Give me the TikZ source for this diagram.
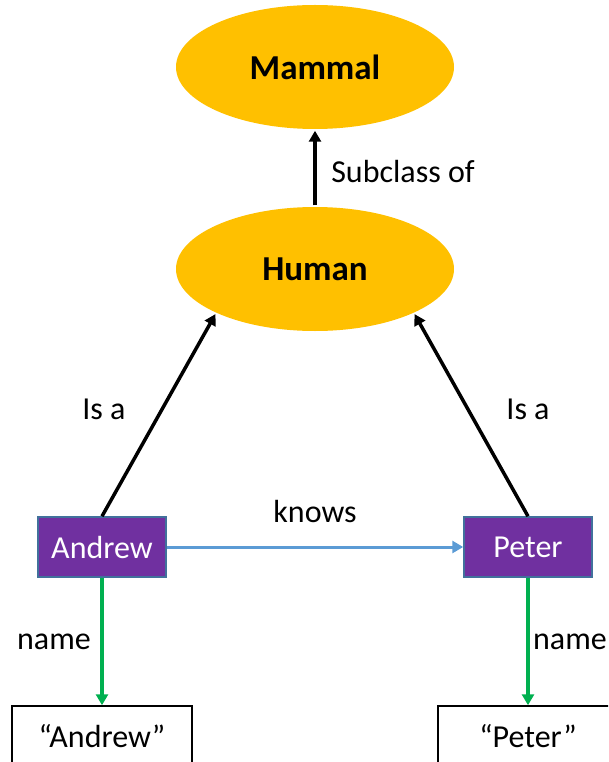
\documentclass[tikz,border=0pt]{standalone}
\usepackage{fontspec}
\setmainfont{Carlito}
\usetikzlibrary{arrows.meta, shapes.geometric}

\definecolor{classfill}{HTML}{FFC000}
\definecolor{personfill}{HTML}{7030A0}
\definecolor{personline}{HTML}{41719C}
\definecolor{knowsline}{HTML}{5B9BD5}
\definecolor{nameline}{HTML}{00B050}

\begin{document}
\begin{tikzpicture}[x=1pt, y=-1pt, -{Triangle[length=11pt, width=12pt]}, line width=3.5pt,
        class node/.style={ellipse, fill=classfill, minimum width=278pt, minimum height=124pt, inner sep=0pt,
            font=\fontsize{35}{42}\selectfont\bfseries},
        person node/.style={rectangle, fill=personfill, draw=personline, line width=1.5pt, text=white,
            minimum width=128pt, minimum height=60pt, inner sep=0pt, font=\fontsize{32}{38}\selectfont},
        literal node/.style={rectangle, draw=black, line width=1.5pt, fill=white,
            minimum width=180pt, minimum height=60pt, inner sep=0pt, font=\fontsize{32}{38}\selectfont},
        edge label/.style={inner sep=0pt, font=\fontsize{32}{38}\selectfont},
        knows line/.style={draw=knowsline, line width=3pt},
        name line/.style={draw=nameline, line width=3.5pt}]

    \useasboundingbox (0,0) rectangle (608,762);
    \clip (0,0) rectangle (608,762);

    % Klasy
    \node[class node] (mammal) at (315,67) {Mammal};
    \node[class node] (human) at (315,269) {Human};

    % Osoby
    \node[person node] (andrew) at (102,547) {Andrew};
    \node[person node] (peter) at (528,547) {Peter};

    % Literaly
    \node[literal node] (andrewlit) at (102,736) {“Andrew”};
    \node[literal node] (peterlit) at (528,736) {“Peter”};

    % Etykiety
    \node[edge label] (subclasslbl) at (403,172) {Subclass of};
    \node[edge label] (isaleftlbl) at (104,409) {Is a};
    \node[edge label] (isarightlbl) at (528,409) {Is a};
    \node[edge label] (knowslbl) at (315,512) {knows};
    \node[edge label] (nameleftlbl) at (54,642) {name};
    \node[edge label] (namerightlbl) at (570,642) {name};

    % Krawedzie
    \path (human) edge[] (mammal);
    \path (andrew.north) edge[] (human.south west);
    \path (peter.north) edge[] (human.south east);
    \path (andrew) edge[knows line] (peter);
    \path (andrew) edge[name line] (andrewlit);
    \path (peter) edge[name line] (peterlit);
\end{tikzpicture}
\end{document}
